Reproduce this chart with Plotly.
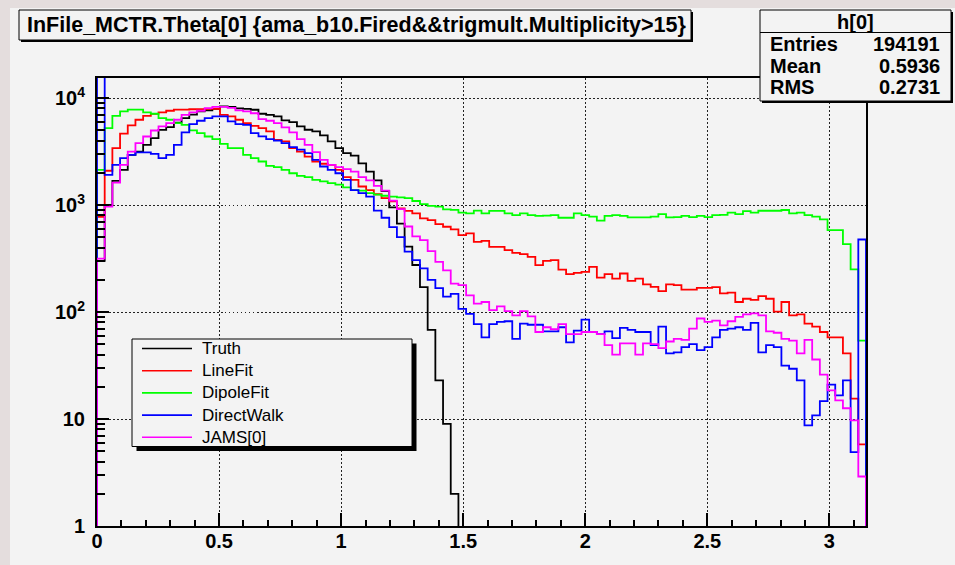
import plotly.graph_objects as go

# ---- histogram binning --------------------------------------------------
theta_lo, theta_hi, n_bins = 0.0, 3.15, 100
edges = [theta_lo + i * (theta_hi - theta_lo) / n_bins for i in range(n_bins + 1)]

series_names = ["Truth", "LineFit", "DipoleFit", "DirectWalk", "JAMS[0]"]
series_colors = ["#000000", "#ff0000", "#00ff00", "#0000ff", "#ff00ff"]

truth = [300, 1000, 1680, 2130, 2940, 3160, 3650, 4220, 5040, 5350,
         5900, 6500, 6980, 7500, 7650, 7900, 8350, 8250, 8000, 7900,
         7770, 7130, 6960, 6740, 6180, 5960, 5430, 5050, 4870, 4470,
         3930, 3400, 3050, 2900, 2450, 2050, 1700, 1350, 950, 670,
         408, 275, 171, 68, 23, 9, 2, 0, 0, 0,
         0, 0, 0, 0, 0, 0, 0, 0, 0, 0,
         0, 0, 0, 0, 0, 0, 0, 0, 0, 0,
         0, 0, 0, 0, 0, 0, 0, 0, 0, 0,
         0, 0, 0, 0, 0, 0, 0, 0, 0, 0,
         0, 0, 0, 0, 0, 0, 0, 0, 0, 0]

linefit = [775, 2090, 3400, 4640, 5540, 6260, 6820, 7100, 7350, 7600,
           7780, 7800, 7850, 7850, 7900, 7900, 6950, 6740, 6260, 5830,
           5500, 5230, 4870, 4070, 3930, 3400, 3160, 2830, 2550, 2430,
           2370, 2130, 1820, 1720, 1490, 1380, 1260, 1160, 1080, 930,
           880, 835, 750, 723, 663, 626, 591, 523, 542, 453,
           463, 407, 407, 378, 357, 347, 328, 274, 301, 306,
           249, 226, 232, 237, 264, 210, 226, 205, 229, 195,
           205, 181, 172, 157, 181, 178, 162, 162, 168, 168,
           171, 149, 152, 124, 133, 130, 141, 133, 101, 124,
           93, 95, 78, 73, 65, 58, 58, 41, 15.5, 5.8]

dipolefit = [2130, 5230, 6820, 7500, 7780, 7780, 7350, 7130, 6500, 6260,
             5830, 5620, 4980, 4700, 4370, 4130, 3730, 3400, 3400, 2940,
             2740, 2550, 2320, 2260, 2130, 1980, 1870, 1820, 1720, 1660,
             1600, 1550, 1460, 1380, 1360, 1290, 1250, 1220, 1200, 1180,
             1160, 1090, 1020, 980, 965, 910, 900, 850, 835, 885,
             835, 880, 880, 835, 805, 835, 805, 790, 795, 805,
             760, 760, 835, 806, 780, 714, 790, 806, 790, 767,
             767, 767, 780, 822, 767, 770, 790, 770, 790, 770,
             806, 810, 847, 823, 878, 847, 884, 884, 884, 898,
             835, 847, 806, 778, 734, 583, 583, 431, 250, 54]

directwalk = [16000, 1910, 2370, 2740, 2940, 3100, 3100, 3010, 2740, 2940,
              3650, 4770, 5710, 6130, 6490, 6730, 6730, 6040, 5710, 5620,
              4700, 4380, 4130, 4000, 3790, 3480, 3290, 3050, 2640, 2290,
              2130, 1980, 1720, 1380, 1290, 1200, 887, 760, 620, 500,
              366, 305, 256, 200, 167, 139, 148, 107, 96, 77,
              58, 77, 81, 82, 56, 78, 76, 76, 66, 66,
              72, 52, 67, 85, 65, 62, 66, 57, 71, 68,
              65, 65, 49, 73, 41, 42, 47, 50, 44, 47,
              58, 68, 70, 72, 68, 79, 42, 49, 47, 31.6,
              29.5, 23, 8.7, 10.8, 14.7, 21, 16.6, 23, 4.9, 476]

jams = [316, 965, 1620, 2370, 3160, 3790, 4370, 4970, 5430, 5830,
        6260, 6960, 7350, 7600, 8060, 8250, 8250, 8100, 7650, 7500,
        7200, 6350, 6130, 5830, 5310, 4770, 4130, 3650, 3120, 2640,
        2370, 2260, 2160, 2050, 1820, 1700, 1510, 1360, 1100, 915,
        630, 510, 470, 370, 294, 245, 184, 178, 143, 120,
        124, 104, 113, 102, 93, 102, 91, 65, 72, 69,
        77, 62, 62, 65, 65, 62, 49, 40, 51, 51,
        40, 51, 50, 46, 53, 56, 55, 70, 87, 81,
        83, 75, 82, 90, 95, 97, 93, 66, 64, 56,
        54, 41, 55, 36, 26, 18.5, 14.9, 12.6, 9.7, 2.9]

series_values = [truth, linefit, dipolefit, directwalk, jams]

# ---- axes ticks -----------------------------------------------------------
x_tick_vals = [0, 0.5, 1, 1.5, 2, 2.5, 3]
x_tick_text = ["0", "0.5", "1", "1.5", "2", "2.5", "3"]
x_minor_vals = [round(0.1 * i, 2) for i in range(32)]
y_tick_vals = [1, 10, 100, 1000, 10000]
y_tick_text = ["1", "10", "10<sup>2</sup>", "10<sup>3</sup>", "10<sup>4</sup>"]
y_minor_vals = [k * 10 ** d for d in range(0, 5) for k in range(2, 10)]
y_log_range = [0, 4.187]

stats_title = "h[0]"
stats_rows = [("Entries", "194191"), ("Mean", "0.5936"), ("RMS", "0.2731")]
plot_title = "InFile_MCTR.Theta[0] {ama_b10.Fired&amp;&amp;trigmult.Multiplicity&gt;15}"

# ---- page geometry (pixels) --------------------------------------------
W_PX, H_PX = 955, 565
L, R, T, B = 97, 866, 78, 526
CANVAS = "#f3f3f3"
FONT = "Liberation Sans, Arial, Helvetica, sans-serif"


def px(x):
    return (x - L) / (R - L)


def py(y):
    return (B - y) / (B - T)


fig = go.Figure()

# empty bins sit below the log axis floor, so the outline drops off the frame
floor_val = 0.1
for name, vals, col in zip(series_names, series_values, series_colors):
    shown = [v if v > 0 else floor_val for v in vals]
    xs = [edges[0]] + edges + [edges[-1]]
    ys = [floor_val] + shown + [shown[-1], floor_val]
    fig.add_trace(go.Scatter(
        x=xs, y=ys, mode="lines", name=name,
        line=dict(color=col, width=1.8, shape="hv"),
        showlegend=False, hoverinfo="skip",
    ))

shapes = []
annotations = []

# canvas panel behind the pad
shapes.append(dict(type="rect", xref="paper", yref="paper", layer="below",
                   x0=px(10), x1=px(956), y0=py(566), y1=py(8),
                   fillcolor=CANVAS, line=dict(width=0)))


def boxed(x0, y0, x1, y1, shadow):
    # ROOT-style pave: black drop shadow then the filled, outlined box
    shapes.append(dict(type="rect", xref="paper", yref="paper",
                       x0=px(x0 + shadow), x1=px(x1 + shadow),
                       y0=py(y1 + shadow), y1=py(y0 + shadow),
                       fillcolor="black", line=dict(width=0)))
    shapes.append(dict(type="rect", xref="paper", yref="paper",
                       x0=px(x0), x1=px(x1), y0=py(y1), y1=py(y0),
                       fillcolor=CANVAS, line=dict(color="black", width=1)))


# title pave
boxed(19, 10, 691, 40, 2)
annotations.append(dict(xref="paper", yref="paper", x=px(25), y=py(25),
                        xanchor="left", yanchor="middle", showarrow=False,
                        text=plot_title,
                        font=dict(family=FONT, size=21.5, color="black", weight="bold")))

# statistics pave
boxed(760, 10, 951, 101, 2)
shapes.append(dict(type="line", xref="paper", yref="paper",
                   x0=px(760), x1=px(951), y0=py(32.5), y1=py(32.5),
                   line=dict(color="black", width=1)))
annotations.append(dict(xref="paper", yref="paper", x=px(855), y=py(21.5),
                        xanchor="center", yanchor="middle", showarrow=False,
                        text=stats_title,
                        font=dict(family=FONT, size=20, color="black", weight="bold")))
for i, (lab, val) in enumerate(stats_rows):
    yy = 44 + i * 21.7
    annotations.append(dict(xref="paper", yref="paper", x=px(768), y=py(yy),
                            xanchor="left", yanchor="middle", showarrow=False,
                            text=lab,
                            font=dict(family=FONT, size=20, color="black", weight="bold")))
    annotations.append(dict(xref="paper", yref="paper", x=px(942), y=py(yy),
                            xanchor="right", yanchor="middle", showarrow=False,
                            text=val,
                            font=dict(family=FONT, size=20, color="black", weight="bold")))

# legend pave
boxed(132, 339, 412, 446.5, 4.5)
for i, (name, col) in enumerate(zip(series_names, series_colors)):
    yy = 348.5 + i * 22.2
    shapes.append(dict(type="line", xref="paper", yref="paper",
                       x0=px(142), x1=px(192), y0=py(yy), y1=py(yy),
                       line=dict(color=col, width=1.6)))
    annotations.append(dict(xref="paper", yref="paper", x=px(200), y=py(yy),
                            xanchor="left", yanchor="middle", showarrow=False,
                            text=name,
                            font=dict(family=FONT, size=17, color="black")))

tick_font = dict(family=FONT, size=20, color="black", weight="bold")
grid_dash = "1.5px,2.5px"

fig.update_layout(
    width=W_PX, height=H_PX,
    margin=dict(l=L, r=W_PX - R, t=T, b=H_PX - B, pad=0),
    paper_bgcolor="#e4dddd",
    plot_bgcolor="rgba(0,0,0,0)",
    showlegend=False,
    shapes=shapes,
    annotations=annotations,
    xaxis=dict(
        range=[theta_lo, theta_hi],
        tickmode="array", tickvals=x_tick_vals, ticktext=x_tick_text,
        ticks="inside", ticklen=13, tickwidth=2, tickcolor="black",
        minor=dict(tickmode="array", tickvals=x_minor_vals, ticks="inside",
                   ticklen=6, tickwidth=1.5, tickcolor="black", showgrid=False),
        showline=True, linecolor="black", linewidth=2, mirror=True,
        showgrid=True, gridcolor="#222222", gridwidth=1, griddash=grid_dash,
        zeroline=False, tickfont=tick_font, ticklabelstandoff=-4,
    ),
    yaxis=dict(
        type="log", range=y_log_range,
        tickmode="array", tickvals=y_tick_vals, ticktext=y_tick_text,
        ticks="inside", ticklen=12, tickwidth=2, tickcolor="black",
        minor=dict(tickmode="array", tickvals=y_minor_vals, ticks="inside",
                   ticklen=8, tickwidth=1.5, tickcolor="black", showgrid=False),
        showline=True, linecolor="black", linewidth=2, mirror=True,
        showgrid=True, gridcolor="#222222", gridwidth=1, griddash=grid_dash,
        zeroline=False, tickfont=tick_font, ticklabelstandoff=6,
    ),
)

fig.write_html("out.html")
